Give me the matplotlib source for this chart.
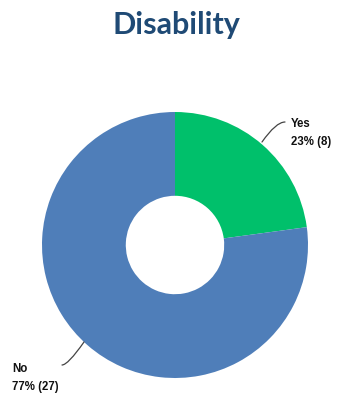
import matplotlib.pyplot as plt

# ======================================================
# DATA
# ======================================================

labels = ["Yes", "No"]
counts = [8, 27]
colors = ["#00C06B", "#4F7EB9"]

title = "Disability"

total = sum(counts)
percents = [round(c / total * 100) for c in counts]

# ======================================================
# FIGURE
# ======================================================

W, H = 337, 397

fig = plt.figure(figsize=(W / 100, H / 100), dpi=100)
ax = fig.add_axes([0, 0, 1, 1])


def px(x, y):
    # pixel coordinates (origin top-left) -> data coordinates
    return x, H - y


cx, cy = px(175, 245)
r = 133

wedges, _ = ax.pie(
    counts,
    colors=colors,
    startangle=90,
    counterclock=False,
    center=(cx, cy),
    radius=r,
    wedgeprops=dict(width=r * 0.63, linewidth=0),
    frame=True,
)
ax.set_xlim(0, W)
ax.set_ylim(0, H)
ax.axis("off")

ax.text(
    *px(176, 34), title,
    ha="center", va="baseline",
    fontsize=22, fontweight="bold",
    family="Lato", color="#1F4A75",
)

# ======================================================
# LABELS WITH LEADER LINES
# ======================================================

# (start on wedge edge, end of leader, text position)
label_spots = [
    ((262, 142), (285, 122), (291, 133)),
    ((84, 342), (62, 365), (12, 378)),
]

for lab, cnt, pct, (p0, p1, tpos) in zip(labels, counts, percents, label_spots):
    ax.annotate(
        "",
        xy=px(*p0), xytext=px(*p1),
        arrowprops=dict(
            arrowstyle="-", color="#444444", lw=0.9,
            connectionstyle="angle3,angleA=0,angleB=55",
            shrinkA=0, shrinkB=0,
        ),
    )
    ax.text(
        *px(*tpos), f"{lab}\n{pct}% ({cnt})",
        ha="left", va="center", fontsize=8.3, fontweight="bold",
        family="Liberation Sans", color="#111111", linespacing=1.75,
    )

fig.savefig("out.png", dpi=100)
